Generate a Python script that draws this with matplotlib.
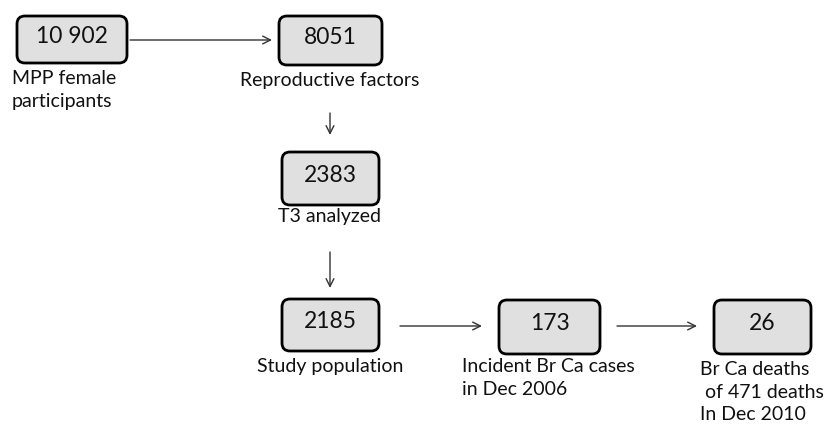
import matplotlib.pyplot as plt
from matplotlib.patches import FancyBboxPatch

plt.rcParams['font.family'] = ['Lato', 'DejaVu Sans']

# box numbers, box extents in pixels (x0, y0, x1, y1)
counts = ['10 902', '8051', '2383', '2185', '173', '26']
boxes = [(17, 16, 127, 63), (279, 16, 382, 65), (282, 152, 379, 205),
         (282, 299, 379, 351), (499, 300, 600, 354), (714, 300, 811, 354)]

captions = ['MPP female\nparticipants', 'Reproductive factors', 'T3 analyzed',
            'Study population', 'Incident Br Ca cases\nin Dec 2006',
            'Br Ca deaths\n of 471 deaths\nIn Dec 2010']
cap_pos = [(12, 70, 'left'), (330, 72, 'center'), (330, 208, 'center'),
           (330, 358, 'center'), (462, 358, 'left'), (700, 361, 'left')]

arrows = [((130, 40), (272, 40)), ((330, 113), (330, 135)),
          ((330, 252), (330, 288)), ((400, 326), (482, 326)),
          ((617, 326), (697, 326))]

fig = plt.figure(figsize=(8.26, 4.28), dpi=100)
ax = fig.add_axes([0, 0, 1, 1])
ax.set_xlim(0, 826)
ax.set_ylim(428, 0)
ax.axis('off')

for (x0, y0, x1, y1), c in zip(boxes, counts):
    r = 8
    ax.add_patch(FancyBboxPatch((x0 + r, y0 + r), x1 - x0 - 2 * r, y1 - y0 - 2 * r,
                                boxstyle='round,pad=%d' % r,
                                fc='#e0e0e0', ec='black', lw=2))
    ax.text((x0 + x1) / 2, (y0 + y1) / 2 - 3, c, ha='center', va='center',
            fontsize=16.5, color='#111111')

for (x, y, ha), t in zip(cap_pos, captions):
    ax.text(x, y, t, ha=ha, va='top', fontsize=14, color='#111111',
            linespacing=1.4)

for (a, b) in arrows:
    ax.annotate('', xy=b, xytext=a,
                arrowprops=dict(arrowstyle='->', color='#333333', lw=1,
                                mutation_scale=14, shrinkA=0, shrinkB=0))

plt.savefig('out.png', dpi=100)
